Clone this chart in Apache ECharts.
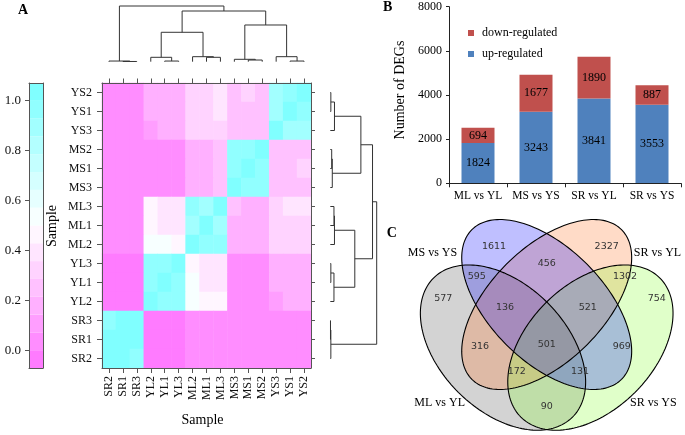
<!DOCTYPE html>
<html><head><meta charset="utf-8">
<script src="https://cdn.jsdelivr.net/npm/echarts@6/dist/echarts.min.js"></script>
<style>html,body{margin:0;padding:0;background:#fff}#c{width:685px;height:435px}</style>
</head><body><div id="c"></div>
<script>
// ================= DATA =================
// Panel A: sample correlation heatmap
const sampleCols = ['SR2','SR1','SR3','YL2','YL1','YL3','ML2','ML1','ML3','MS3','MS1','MS2','YS3','YS1','YS2'];
const sampleRows = ['YS2','YS1','YS3','MS2','MS1','MS3','ML3','ML1','ML2','YL3','YL1','YL2','SR3','SR1','SR2'];
const corr = [
  [0.04,0.04,0.04, 0.18,0.18,0.18, 0.32,0.32,0.39, 0.25,0.32,0.25, 0.89,0.96,1.00], // YS2
  [0.04,0.04,0.04, 0.18,0.18,0.18, 0.32,0.32,0.39, 0.25,0.25,0.25, 0.89,1.00,0.96], // YS1
  [0.04,0.04,0.04, 0.11,0.18,0.18, 0.32,0.32,0.32, 0.25,0.25,0.25, 1.00,0.89,0.89], // YS3
  [0.04,0.04,0.04, 0.03,0.03,0.03, 0.18,0.18,0.25, 0.96,0.96,1.00, 0.25,0.25,0.25], // MS2
  [0.04,0.04,0.04, 0.03,0.03,0.03, 0.18,0.18,0.25, 0.96,1.00,0.96, 0.25,0.25,0.32], // MS1
  [0.04,0.04,0.04, 0.03,0.03,0.03, 0.18,0.18,0.25, 1.00,0.96,0.96, 0.25,0.25,0.25], // MS3
  [0.04,0.04,0.04, 0.46,0.39,0.39, 0.96,0.89,1.00, 0.25,0.18,0.18, 0.32,0.39,0.39], // ML3
  [0.04,0.04,0.04, 0.46,0.39,0.39, 0.89,1.00,0.89, 0.18,0.18,0.18, 0.32,0.32,0.32], // ML1
  [0.04,0.04,0.04, 0.54,0.54,0.46, 1.00,0.96,0.96, 0.18,0.18,0.18, 0.32,0.32,0.32], // ML2
  [-0.03,-0.03,-0.03, 0.96,0.96,1.00, 0.46,0.39,0.39, 0.04,0.04,0.04, 0.18,0.18,0.18], // YL3
  [-0.03,-0.03,-0.03, 0.96,1.00,0.96, 0.54,0.39,0.39, 0.04,0.04,0.04, 0.18,0.18,0.18], // YL1
  [-0.03,-0.03,-0.03, 1.00,0.96,0.96, 0.54,0.46,0.46, 0.04,0.04,0.04, 0.11,0.18,0.18], // YL2
  [0.96,1.00,1.00, -0.03,-0.03,-0.03, 0.04,0.04,0.04, 0.04,0.04,0.04, 0.04,0.04,0.04], // SR3
  [1.00,1.00,1.00, -0.03,-0.03,-0.03, 0.04,0.04,0.04, 0.04,0.04,0.04, 0.04,0.04,0.04], // SR1
  [1.00,1.00,0.96, -0.03,-0.03,-0.03, 0.04,0.04,0.04, 0.04,0.04,0.04, 0.04,0.04,0.04]  // SR2
];
const colorbarTicks = [0.0, 0.2, 0.4, 0.6, 0.8, 1.0];
const scaleMin = -0.07, scaleMax = 1.07, nLevels = 16;
// hierarchical clustering merges: [left, right, height]; strings = samples, numbers = earlier merge
const dendroMerges = [
  ['SR1','SR3',0.004], ['SR2',0,0.012],
  ['YL1','YL3',0.012], ['YL2',2,0.079],
  ['ML1','ML3',0.079], ['ML2',4,0.09],
  ['MS1','MS2',0.03],  ['MS3',6,0.043],
  ['YS1','YS2',0.012], ['YS3',8,0.09],
  [3,5,0.528], [7,9,0.659], [10,11,0.91], [1,12,1.0]
];
// Panel B: DEG counts
const degGroups = ['ML vs YL','MS vs YS','SR vs YL','SR vs YS'];
const degUp = [1824, 3243, 3841, 3553];
const degDown = [694, 1677, 1890, 887];
// Panel C: Venn
const vennSets = ['ML vs YL','MS vs YS','SR vs YL','SR vs YS'];
const vennCounts = [1611, 2327, 456, 595, 1302, 577, 754, 136, 521, 316, 501, 969, 172, 131, 90];

// ================= LAYOUT / STYLE =================
const SERIF = '"Liberation Serif", "Times New Roman", serif';
const SANS = '"DejaVu Sans", sans-serif';
const FRAME = '#555';
const vennEllipses = [ // same order as vennSets, in venn grid units (px-like)
  {cx:503.0, cy:347.6, a:98.3, b:63.2, ang: 45, fill:'rgba(80,80,80,0.25)'},
  {cx:546.7, cy:304.5, a:105.8, b:57.0, ang: 45, fill:'rgba(0,0,255,0.25)'},
  {cx:546.7, cy:304.5, a:105.8, b:57.0, ang:-45, fill:'rgba(255,110,30,0.25)'},
  {cx:590.4, cy:347.6, a:98.3, b:63.2, ang:-45, fill:'rgba(130,255,40,0.25)'}
];
const vennFillOrder = [0, 2, 3, 1];
const vennCountPos = [[494,246.7],[606.7,246.7],[546.7,263.3],[476.7,276.7],[625,276.7],[443.3,298.3],[656.7,298.3],
  [505,307.7],[587.7,307.7],[480,346.7],[546.7,345],[621.7,346.7],[516.7,371.7],[580,371.7],[546.7,406.7]];
const vennSetLabelPos = [[439.7,403.3],[432.5,253.3],[657.5,253.3],[653.3,403.3]];

// ================= BUILD =================
const levelStep = (scaleMax - scaleMin) / nLevels;
function levelColor(k) {
  const t = k / (nLevels - 1);
  if (t <= 0.5) { const s = 1 - t / 0.5; return 'rgb(255,' + Math.round(255 - 132 * s) + ',255)'; }
  const s = (t - 0.5) / 0.5; return 'rgb(' + Math.round(255 - 127 * s) + ',255,255)';
}
const pieces = [];
const colorbarData = [];
for (let k = 0; k < nLevels; k++) {
  const lo = scaleMin + k * levelStep, hi = scaleMin + (k + 1) * levelStep;
  pieces.push({gte: lo, lt: hi, color: levelColor(k)});
  colorbarData.push([lo, hi, (lo + hi) / 2, 0.5]);
}
pieces[nLevels - 1] = {gte: pieces[nLevels - 1].gte, lte: scaleMax + 1, color: levelColor(nLevels - 1)};

const heatData = [];
corr.forEach((row, i) => row.forEach((v, j) => heatData.push([j, i, v])));

function dendroSegments() {
  const pos = [], hts = [], segs = [];
  const p = r => typeof r === 'string' ? sampleCols.indexOf(r) : pos[r];
  const h = r => typeof r === 'string' ? 0 : hts[r];
  dendroMerges.forEach(([l, r, hh], k) => {
    segs.push([p(l), h(l), p(r), h(r), hh]);
    pos[k] = (p(l) + p(r)) / 2; hts[k] = hh;
  });
  return segs;
}
const segs = dendroSegments();
function dendroRender(swap) {
  return function (params, api) {
    const x1 = api.value(0), h1 = api.value(1), x2 = api.value(2), h2 = api.value(3), h = api.value(4);
    const pts = [[x1,h1],[x1,h],[x2,h],[x2,h2]].map(d => api.coord(swap ? [d[1], d[0]] : d));
    return {type:'polyline', shape:{points: pts}, style:{stroke:'#333', lineWidth:1, fill:null}};
  };
}
function txtStyle(text, font, align, valign, color) {
  return {text, font, fill: color || '#000', textAlign: align, textVerticalAlign: valign, align: align, verticalAlign: valign};
}

const hidden = {show:false};
const option = {
  animation: false,
  backgroundColor: '#fff',
  textStyle: {fontFamily: SERIF, color:'#000'},
  grid: [
    {left:102, top:83, width:209, height:285},          // 0 heatmap
    {left:29, top:83, width:14, height:285},            // 1 colorbar
    {left:102, top:6, width:209, height:55.7},          // 2 top dendrogram
    {left:330.3, top:83, width:46.4, height:285},       // 3 right dendrogram
    {left:449, top:6.7, width:232, height:176.6},       // 4 bars
    {left:415, top:215, width:270, height:220}          // 5 venn
  ],
  xAxis: [
    {gridIndex:0, type:'category', data: sampleCols, position:'bottom', z:10,
     axisLine:{show:true, lineStyle:{color:FRAME}}, axisTick:{show:true, alignWithLabel:true, interval:0, length:5, lineStyle:{color:FRAME}},
     axisLabel:{interval:0, rotate:90, margin:8, fontSize:12, fontFamily:SERIF, color:'#111'}},
    {gridIndex:0, type:'category', data: sampleCols, position:'top', z:10,
     axisLine:{show:true, lineStyle:{color:FRAME}}, axisTick:{show:true, alignWithLabel:true, interval:0, length:4.5, lineStyle:{color:FRAME}},
     axisLabel:{show:false}},
    {gridIndex:1, type:'value', min:0, max:1, position:'bottom', z:10, axisLine:{show:true, onZero:false, lineStyle:{color:FRAME}}, axisTick:hidden, axisLabel:hidden, splitLine:hidden},
    {gridIndex:1, type:'value', min:0, max:1, position:'top', z:10, axisLine:{show:true, onZero:false, lineStyle:{color:FRAME}}, axisTick:hidden, axisLabel:hidden, splitLine:hidden},
    {gridIndex:2, type:'value', min:-0.5, max:14.5, show:false},
    {gridIndex:3, type:'value', min:0, max:1, show:false},
    {gridIndex:4, type:'category', data: degGroups, z:10,
     axisLine:{show:true, lineStyle:{color:'#222'}}, axisTick:{show:true, length:4, lineStyle:{color:'#222'}},
     axisLabel:{interval:0, margin:7, fontSize:11.5, fontFamily:SERIF, color:'#000'}},
    {gridIndex:5, type:'value', min:415, max:685, show:false}
  ],
  yAxis: [
    {gridIndex:0, type:'category', data: sampleRows, inverse:true, position:'left', z:10,
     axisLine:{show:true, lineStyle:{color:FRAME}}, axisTick:{show:true, alignWithLabel:true, interval:0, length:5, lineStyle:{color:FRAME}},
     axisLabel:{interval:0, margin:10, fontSize:12, fontFamily:SERIF, color:'#111'}},
    {gridIndex:0, type:'category', data: sampleRows, inverse:true, position:'right', z:10,
     axisLine:{show:true, lineStyle:{color:FRAME}}, axisTick:{show:true, alignWithLabel:true, interval:0, length:4, lineStyle:{color:FRAME}},
     axisLabel:{show:false}},
    {gridIndex:1, type:'value', min:scaleMin, max:scaleMax, position:'left', z:10,
     axisLine:{show:true, onZero:false, lineStyle:{color:FRAME}},
     axisTick:{show:true, length:4, customValues: colorbarTicks, lineStyle:{color:FRAME}},
     axisLabel:{customValues: colorbarTicks, formatter: v => v.toFixed(1), margin:8, fontSize:13, fontFamily:SERIF, color:'#111'},
     splitLine:hidden},
    {gridIndex:1, type:'value', min:scaleMin, max:scaleMax, position:'right', z:10,
     axisLine:{show:true, onZero:false, lineStyle:{color:FRAME}}, axisTick:hidden, axisLabel:hidden, splitLine:hidden},
    {gridIndex:2, type:'value', min:0, max:1, show:false},
    {gridIndex:3, type:'value', min:-0.5, max:14.5, show:false},
    {gridIndex:4, type:'value', min:0, max:8000, interval:2000, z:10,
     axisLine:{show:true, lineStyle:{color:'#222'}}, axisTick:{show:true, length:3, lineStyle:{color:'#222'}},
     axisLabel:{margin:7, fontSize:12, fontFamily:SERIF, color:'#000', formatter: v => String(v)}, splitLine:hidden},
    {gridIndex:5, type:'value', min:215, max:435, inverse:true, show:false}
  ],
  visualMap: {type:'piecewise', show:false, dimension:2, seriesIndex:[0,1], pieces: pieces},
  legend: {data:['down-regulated','up-regulated'], orient:'vertical', left:463, top:22, itemWidth:6, itemHeight:6,
    itemGap:9, icon:'rect', textStyle:{fontFamily:SERIF, fontSize:12, color:'#000', padding:[0,0,0,3]}},
  series: [
    {type:'heatmap', xAxisIndex:0, yAxisIndex:0, data: heatData, emphasis:{disabled:true}, progressive:0},
    {type:'custom', xAxisIndex:2, yAxisIndex:2, data: colorbarData, encode:{x:3, y:[0,1]}, silent:true,
     renderItem: (params, api) => {
       const p0 = api.coord([0, api.value(0)]), p1 = api.coord([1, api.value(1)]);
       return {type:'rect', shape:{x:p0[0], y:p1[1], width:p1[0]-p0[0], height:p0[1]-p1[1]}, style:{fill: api.visual('color')}};
     }},
    {type:'custom', xAxisIndex:4, yAxisIndex:4, data: segs, encode:{x:[0,2], y:[1,3,4]}, silent:true, renderItem: dendroRender(false)},
    {type:'custom', xAxisIndex:5, yAxisIndex:5, data: segs, encode:{x:[1,3,4], y:[0,2]}, silent:true, renderItem: dendroRender(true)},
    {name:'up-regulated', type:'bar', xAxisIndex:6, yAxisIndex:6, stack:'deg', data: degUp, barWidth:33,
     itemStyle:{color:'#4F81BD'}, label:{show:true, position:'inside', color:'#000', fontSize:12, fontFamily:SERIF}},
    {name:'down-regulated', type:'bar', xAxisIndex:6, yAxisIndex:6, stack:'deg', data: degDown, barWidth:33,
     itemStyle:{color:'#C0504D'}, label:{show:true, position:'inside', color:'#000', fontSize:12, fontFamily:SERIF}},
    {type:'custom', xAxisIndex:7, yAxisIndex:7, silent:true, data: vennFillOrder.map(i => [i, 0, 0]), encode:{x:1, y:2},
     renderItem: (params, api) => {
       const e = vennEllipses[api.value(0)], th = e.ang * Math.PI / 180, pts = [];
       for (let s = 0; s < 180; s++) {
         const t = s / 180 * 2 * Math.PI;
         pts.push(api.coord([e.cx + e.a*Math.cos(t)*Math.cos(th) - e.b*Math.sin(t)*Math.sin(th),
                             e.cy + e.a*Math.cos(t)*Math.sin(th) + e.b*Math.sin(t)*Math.cos(th)]));
       }
       return {type:'polygon', shape:{points:pts}, style:{fill:e.fill, stroke:null}};
     }},
    {type:'custom', xAxisIndex:7, yAxisIndex:7, silent:true, data: vennSets.map((s, i) => [i, 0, 0]), encode:{x:1, y:2},
     renderItem: (params, api) => {
       const e = vennEllipses[api.value(0)], th = e.ang * Math.PI / 180, pts = [];
       for (let s = 0; s < 180; s++) {
         const t = s / 180 * 2 * Math.PI;
         pts.push(api.coord([e.cx + e.a*Math.cos(t)*Math.cos(th) - e.b*Math.sin(t)*Math.sin(th),
                             e.cy + e.a*Math.cos(t)*Math.sin(th) + e.b*Math.sin(t)*Math.cos(th)]));
       }
       return {type:'polygon', shape:{points:pts}, style:{fill:null, stroke:'#000', lineWidth:1.1}};
     }},
    {type:'custom', xAxisIndex:7, yAxisIndex:7, silent:true,
     data: vennCounts.map((c, i) => [vennCountPos[i][0], vennCountPos[i][1], c]), encode:{x:0, y:1},
     renderItem: (params, api) => {
       const p = api.coord([api.value(0), api.value(1)]);
       return {type:'text', x:p[0], y:p[1], style: txtStyle(String(api.value(2)), '9.5px ' + SANS, 'center', 'middle', '#333')};
     }},
    {type:'custom', xAxisIndex:7, yAxisIndex:7, silent:true,
     data: vennSets.map((s, i) => [vennSetLabelPos[i][0], vennSetLabelPos[i][1], i]), encode:{x:0, y:1},
     renderItem: (params, api) => {
       const p = api.coord([api.value(0), api.value(1)]);
       return {type:'text', x:p[0], y:p[1], style: txtStyle(vennSets[api.value(2)], '12px ' + SERIF, 'center', 'middle', '#000')};
     }}
  ],
  graphic: [
    {type:'text', x:23, y:10, style: txtStyle('A', 'bold 14px ' + SERIF, 'center', 'middle')},
    {type:'text', x:387.7, y:7, style: txtStyle('B', 'bold 14px ' + SERIF, 'center', 'middle')},
    {type:'text', x:391.7, y:233.3, style: txtStyle('C', 'bold 14px ' + SERIF, 'center', 'middle')},
    {type:'text', x:52, y:226, rotation: Math.PI/2, style: txtStyle('Sample', '14px ' + SERIF, 'center', 'middle')},
    {type:'text', x:202.5, y:420, style: txtStyle('Sample', '14px ' + SERIF, 'center', 'middle')},
    {type:'text', x:400, y:90, rotation: Math.PI/2, style: txtStyle('Number of DEGs', '14px ' + SERIF, 'center', 'middle')}
  ]
};
const chart = echarts.init(document.getElementById('c'));
chart.setOption(option);
</script>
</body></html>
